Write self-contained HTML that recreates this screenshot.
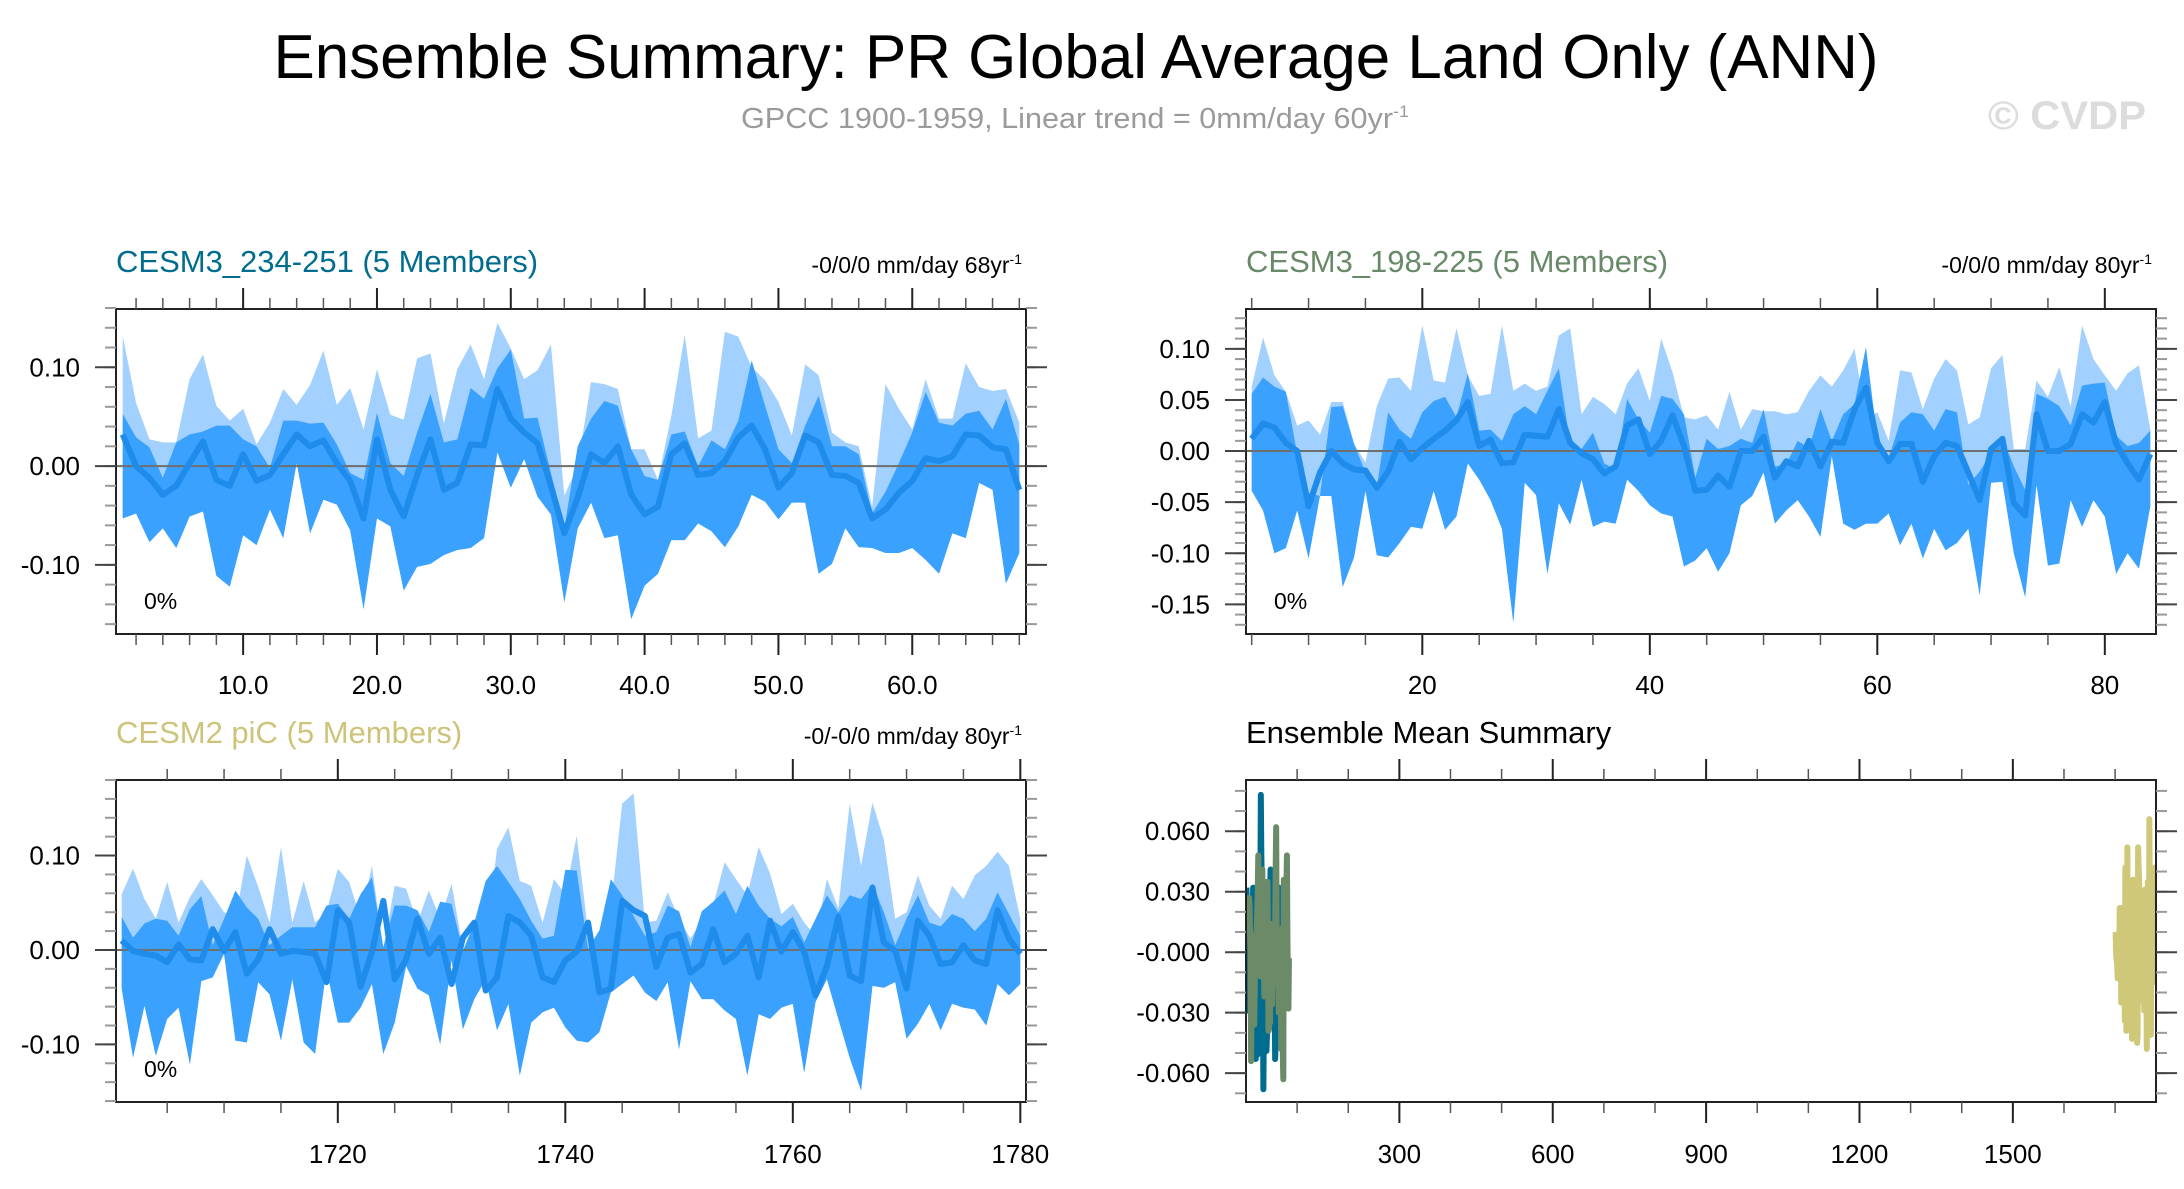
<!DOCTYPE html>
<html><head><meta charset="utf-8"><style>
html,body{margin:0;padding:0;background:#fff;}
svg{display:block;font-family:"Liberation Sans",Arial,sans-serif;}
</style></head><body>
<svg id="chart" width="2184" height="1189" viewBox="0 0 2184 1189" xmlns="http://www.w3.org/2000/svg">
<text x="1076" y="78" text-anchor="middle" font-size="62" fill="#000" textLength="1605" lengthAdjust="spacingAndGlyphs">Ensemble Summary: PR Global Average Land Only (ANN)</text>
<text x="741" y="128" font-size="29" fill="#9a9a9a" textLength="668" lengthAdjust="spacingAndGlyphs">GPCC 1900-1959, Linear trend = 0mm/day 60yr<tspan dy="-11" font-size="17">-1</tspan></text>
<text x="1988" y="129" font-size="40" font-weight="bold" fill="#dcdcdc" textLength="158" lengthAdjust="spacingAndGlyphs">© CVDP</text>
</svg>
<script>
// Panel 1: CESM3_234-251 (x = 1..68)
const p1Start = 1;
const p1Mean = [0.032,0,-0.012,-0.029,-0.020,0.003,0.025,-0.014,-0.020,0.012,-0.015,-0.009,0.012,0.032,0.020,0.026,0.003,-0.015,-0.053,0.027,-0.024,-0.051,-0.009,0.027,-0.024,-0.017,0.022,0.021,0.078,0.048,0.034,0.023,-0.020,-0.068,-0.032,0.012,0.003,0.020,-0.029,-0.049,-0.041,0.012,0.023,-0.009,-0.007,0.005,0.029,0.041,0.017,-0.022,-0.007,0.031,0.024,-0.009,-0.010,-0.017,-0.053,-0.044,-0.027,-0.015,0.008,0.005,0.010,0.032,0.031,0.019,0.017,-0.024];
const p1Hi = [0.132,0.064,0.027,0.024,0.024,0.088,0.113,0.061,0.046,0.058,0.022,0.044,0.078,0.062,0.082,0.117,0.062,0.079,0.037,0.098,0.052,0.047,0.109,0.114,0.043,0.098,0.123,0.088,0.145,0.119,0.088,0.097,0.123,-0.030,0.000,0.085,0.083,0.078,0.017,0.017,-0.014,0.051,0.133,0.028,0.036,0.136,0.131,0.100,0.087,0.065,0.031,0.103,0.092,0.034,0.024,0.020,-0.041,0.083,0.058,0.037,0.088,0.048,0.048,0.104,0.080,0.076,0.078,0.044];
const p1Mid = [0.053,0.029,0.019,-0.012,0.024,0.032,0.035,0.041,0.041,0.027,0.020,-0.002,0.046,0.046,0.043,0.044,0.022,-0.007,-0.014,0.054,0.003,-0.010,0.034,0.073,0.024,0.027,0.079,0.068,0.099,0.118,0.048,0.049,-0.007,-0.063,0.020,0.048,0.066,0.061,0.017,-0.010,-0.014,0.032,0.035,0.000,0.026,0.017,0.046,0.107,0.061,0.017,0.003,0.041,0.071,0.020,0.020,0.012,-0.048,-0.026,0.003,0.034,0.075,0.044,0.041,0.053,0.056,0.037,0.068,0.022];
const p1Lo = [-0.053,-0.048,-0.077,-0.063,-0.083,-0.051,-0.046,-0.111,-0.122,-0.070,-0.080,-0.044,-0.073,0.003,-0.068,-0.034,-0.039,-0.065,-0.145,-0.053,-0.061,-0.126,-0.102,-0.099,-0.090,-0.085,-0.083,-0.073,0.014,-0.022,0.007,-0.031,-0.049,-0.138,-0.063,-0.037,-0.073,-0.070,-0.155,-0.121,-0.109,-0.075,-0.075,-0.058,-0.066,-0.082,-0.061,-0.029,-0.036,-0.054,-0.037,-0.037,-0.109,-0.099,-0.063,-0.082,-0.083,-0.088,-0.088,-0.083,-0.095,-0.109,-0.068,-0.073,-0.017,-0.024,-0.119,-0.088];
const p1XTicks = [10,20,30,40,50,60];
const p1XLabels = ["10.0","20.0","30.0","40.0","50.0","60.0"];
const p1YTicks = [0.10,0.00,-0.10];
const p1YLabels = ["0.10","0.00","-0.10"];

// Panel 2: CESM3_198-225 (x = 5..84)
const p2Start = 5;
const p2Mean = [0.012,0.027,0.023,0.008,0.000,-0.054,-0.021,0.000,-0.012,-0.018,-0.019,-0.036,-0.020,0.009,-0.008,0.003,0.012,0.020,0.030,0.048,0.005,0.011,-0.012,-0.011,0.016,0.015,0.014,0.041,0.008,-0.002,-0.008,-0.022,-0.015,0.025,0.031,-0.003,0.010,0.035,0.005,-0.039,-0.038,-0.024,-0.035,0.000,0.000,0.014,-0.026,-0.010,-0.015,0.010,-0.015,0.009,0.008,0.041,0.062,0.008,-0.010,0.007,0.007,-0.030,-0.005,0.008,0.005,-0.021,-0.048,0.002,0.012,-0.051,-0.063,0.036,0.000,0.000,0.007,0.036,0.028,0.048,0.007,-0.012,-0.028,-0.003];
const p2Hi = [0.063,0.111,0.074,0.058,0.025,0.030,0.016,0.048,0.048,0.007,-0.011,0.044,0.071,0.072,0.059,0.123,0.069,0.067,0.120,0.074,0.054,0.056,0.123,0.059,0.066,0.059,0.063,0.113,0.120,0.036,0.053,0.046,0.036,0.066,0.081,0.049,0.110,0.077,0.033,0.031,0.035,0.021,0.058,0.021,0.041,0.039,0.039,0.036,0.038,0.059,0.074,0.063,0.079,0.100,0.031,0.038,0.010,0.079,0.077,0.041,0.071,0.090,0.079,0.026,0.033,0.081,0.094,0.002,0.002,0.069,0.053,0.082,0.043,0.123,0.090,0.074,0.059,0.076,0.084,0.021];
const p2Mid = [0.056,0.072,0.063,0.058,-0.003,-0.041,-0.044,0.043,0.044,0.007,-0.021,-0.035,0.038,0.021,0.012,0.038,0.049,0.053,0.033,0.076,0.020,0.021,0.010,0.036,0.044,0.036,0.059,0.081,0.007,0.002,0.018,-0.012,-0.018,0.051,0.031,0.018,0.054,0.051,0.036,-0.026,0.012,0.002,0.005,0.012,0.008,0.041,-0.015,-0.013,0.010,0.003,0.041,0.010,0.036,0.046,0.102,0.012,-0.007,0.028,0.038,0.036,0.020,0.041,0.038,-0.033,-0.020,-0.002,0.013,-0.015,-0.038,0.056,0.051,0.044,0.025,0.064,0.066,0.067,0.015,0.005,0.008,0.020];
const p2Lo = [-0.039,-0.058,-0.100,-0.095,-0.058,-0.105,-0.044,-0.044,-0.133,-0.104,-0.039,-0.102,-0.104,-0.090,-0.074,-0.076,-0.039,-0.077,-0.064,-0.012,-0.028,-0.048,-0.076,-0.168,-0.031,-0.043,-0.120,-0.051,-0.072,-0.028,-0.074,-0.069,-0.071,-0.028,-0.039,-0.053,-0.061,-0.064,-0.113,-0.107,-0.095,-0.118,-0.100,-0.053,-0.044,-0.021,-0.071,-0.058,-0.048,-0.064,-0.084,-0.005,-0.071,-0.077,-0.071,-0.071,-0.061,-0.092,-0.071,-0.105,-0.076,-0.097,-0.090,-0.076,-0.141,-0.031,-0.030,-0.100,-0.143,-0.033,-0.112,-0.110,-0.048,-0.074,-0.048,-0.064,-0.120,-0.100,-0.115,-0.054];
const p2XTicks = [20,40,60,80];
const p2XLabels = ["20","40","60","80"];
const p2YTicks = [0.10,0.05,0.00,-0.05,-0.10,-0.15];
const p2YLabels = ["0.10","0.05","0.00","-0.05","-0.10","-0.15"];

// Panel 3: CESM2 piC (years 1701..1780)
const p3Start = 1701;
const p3Mean = [0.010,-0.001,-0.004,-0.006,-0.013,0.006,-0.010,-0.011,0.022,-0.001,0.019,-0.025,-0.010,0.022,-0.004,-0.001,-0.002,-0.004,-0.034,0.042,0.029,-0.039,-0.002,0.052,-0.031,-0.010,0.033,-0.004,0.013,-0.036,0.013,0.029,-0.043,-0.029,0.036,0.029,0.015,-0.029,-0.034,-0.011,-0.002,0.029,-0.045,-0.041,0.052,0.042,0.036,-0.018,0.013,0.017,-0.024,-0.015,0.022,-0.013,-0.004,0.015,-0.029,0.031,-0.002,0.019,-0.002,-0.048,-0.017,0.035,-0.027,-0.033,0.066,0.008,-0.001,-0.041,0.031,0.015,-0.015,-0.013,0.005,-0.011,-0.015,0.042,0.012,-0.004];
const p3Hi = [0.059,0.086,0.054,0.033,0.072,0.029,0.056,0.075,0.058,0.040,0.033,0.100,0.067,0.029,0.109,0.029,0.073,0.029,0.040,0.086,0.072,0.033,0.089,0.001,0.068,0.065,0.029,0.063,0.033,0.070,0.001,0.006,0.012,0.107,0.130,0.073,0.068,0.029,0.075,0.059,0.121,0.019,0.005,0.044,0.155,0.166,0.029,0.031,0.061,0.033,0.012,0.031,0.047,0.093,0.075,0.058,0.109,0.081,0.038,0.049,0.029,0.015,0.075,0.044,0.155,0.089,0.156,0.117,0.033,0.040,0.079,0.047,0.033,0.068,0.054,0.079,0.089,0.104,0.089,0.033];
const p3Mid = [0.035,0.013,0.028,0.033,0.031,0.015,0.043,0.057,0.005,0.033,0.063,0.045,0.033,0.005,0.015,0.024,0.024,0.024,0.047,0.049,0.033,0.059,0.077,0.003,0.047,0.047,0.042,0.019,0.051,0.049,-0.001,0.029,0.073,0.089,0.072,0.054,0.031,0.012,0.015,0.085,0.084,0.001,0.021,0.075,0.058,0.036,0.015,0.019,0.047,0.041,0.003,0.041,0.051,0.063,0.038,0.068,0.047,0.033,0.025,0.035,0.008,0.033,0.058,0.040,0.058,0.054,0.070,0.040,0.005,0.033,0.058,0.029,0.025,0.038,0.033,0.020,0.033,0.061,0.038,0.015];
const p3Lo = [-0.041,-0.114,-0.059,-0.112,-0.073,-0.061,-0.121,-0.033,-0.029,-0.004,-0.096,-0.098,-0.034,-0.047,-0.096,-0.031,-0.098,-0.110,-0.020,-0.077,-0.077,-0.061,-0.036,-0.110,-0.077,-0.017,-0.041,-0.048,-0.100,-0.011,-0.084,-0.052,-0.031,-0.085,-0.057,-0.133,-0.077,-0.066,-0.061,-0.082,-0.096,-0.098,-0.087,-0.045,-0.036,-0.027,-0.045,-0.054,-0.034,-0.105,-0.033,-0.052,-0.052,-0.064,-0.073,-0.133,-0.068,-0.073,-0.061,-0.057,-0.130,-0.055,-0.031,-0.073,-0.114,-0.149,-0.038,-0.040,-0.034,-0.094,-0.078,-0.057,-0.085,-0.057,-0.061,-0.063,-0.080,-0.036,-0.048,-0.036];
const p3XTicks = [1720,1740,1760,1780];
const p3XLabels = ["1720","1740","1760","1780"];
const p3YTicks = [0.10,0.00,-0.10];
const p3YLabels = ["0.10","0.00","-0.10"];

// Panel 4: ensemble mean summary
const p4XTicks = [300,600,900,1200,1500];
const p4XLabels = ["300","600","900","1200","1500"];
const p4YTicks = [0.06,0.03,0.0,-0.03,-0.06];
const p4YLabels = ["0.060","0.030","-0.000","-0.030","-0.060"];

const NS = "http://www.w3.org/2000/svg";
const svg = document.getElementById("chart");
function mk(tag, attrs, parent) {
  const e = document.createElementNS(NS, tag);
  for (const k in attrs) e.setAttribute(k, attrs[k]);
  (parent || svg).appendChild(e);
  return e;
}
function range(a, b, s) { const r = []; for (let v = a; v <= b + 1e-9; v += s) r.push(+v.toFixed(6)); return r; }

function makePanel(cfg) {
  const g = mk("g", {});
  
  
  const L = cfg.x0, R = cfg.x1, T = cfg.y0, B = cfg.y1;
  const sx = v => L + (v - cfg.xmin) / (cfg.xmax - cfg.xmin) * (R - L);
  const sy = v => T + (cfg.ymax - v) / (cfg.ymax - cfg.ymin) * (B - T);
  const clip = "clip-" + cfg.name;
  const cp = mk("clipPath", {id: clip}, g);
  mk("rect", {x: L, y: T, width: R - L, height: B - T}, cp);
  const plot = mk("g", {"clip-path": "url(#" + clip + ")"}, g);
  
  
  if (cfg.series) {
    const xs = cfg.mean.map((_, i) => cfg.start + i);
    const poly = (top, bot) => top.map((v, i) => sx(xs[i]) + "," + sy(v)).concat(bot.map((v, i) => [sx(xs[i]), sy(v)]).reverse().map(p => p.join(","))).join(" ");
    const light = mk("polygon", {points: poly(cfg.hi, cfg.lo), fill: "#a2d0ff"}, plot);
    
    
    const med = mk("polygon", {points: poly(cfg.mid, cfg.lo), fill: "#3aa1ff"}, plot);
    
    
    const zl = mk("line", {x1: L, x2: R, y1: sy(0), y2: sy(0), stroke: "#6f6f6f", "stroke-width": 2}, plot);
    
    
    const ml = mk("polyline", {points: cfg.mean.map((v, i) => sx(xs[i]) + "," + sy(v)).join(" "), fill: "none", stroke: "#1f8ceb", "stroke-width": 6, "stroke-linejoin": "round"}, plot);
    
    
  }
  if (cfg.lines) {
    cfg.lines.forEach(s => {
      const pl = mk("polyline", {points: s.data.map((v, i) => sx(s.start + i) + "," + sy(v)).join(" "), fill: "none", stroke: s.color, "stroke-width": 6, "stroke-linejoin": "round"}, plot);
      
      
    });
  }
  const fr = mk("rect", {x: L, y: T, width: R - L, height: B - T, fill: "none", stroke: "#222", "stroke-width": 2}, g);
  
  
  cfg.xMinor.forEach(v => {
    const x = sx(v); if (x < L - 1 || x > R + 1) return;
    mk("line", {x1: x, x2: x, y1: T, y2: T - 11, stroke: "#555", "stroke-width": 1.5}, g);
    mk("line", {x1: x, x2: x, y1: B, y2: B + 11, stroke: "#555", "stroke-width": 1.5}, g);
  });
  cfg.yMinor.forEach(v => {
    const y = sy(v); if (y < T - 1 || y > B + 1) return;
    mk("line", {x1: L, x2: L - 11, y1: y, y2: y, stroke: "#999", "stroke-width": 2}, g);
    mk("line", {x1: R, x2: R + 11, y1: y, y2: y, stroke: "#999", "stroke-width": 2}, g);
  });
  cfg.xTicks.forEach((v, i) => {
    const x = sx(v);
    mk("line", {x1: x, x2: x, y1: T, y2: T - 21, stroke: "#222", "stroke-width": 2}, g);
    mk("line", {x1: x, x2: x, y1: B, y2: B + 21, stroke: "#222", "stroke-width": 2}, g);
    const t = mk("text", {x: x, y: cfg.xLabY, "text-anchor": "middle", "font-size": 26, fill: "#000"}, g);
    t.textContent = cfg.xLabels[i];
    
    
  });
  cfg.yTicks.forEach((v, i) => {
    const y = sy(v);
    mk("line", {x1: L, x2: L - 21, y1: y, y2: y, stroke: "#444", "stroke-width": 2}, g);
    mk("line", {x1: R, x2: R + 21, y1: y, y2: y, stroke: "#444", "stroke-width": 2}, g);
    const t = mk("text", {x: L - 36, y: y + 9, "text-anchor": "end", "font-size": 26, fill: "#000"}, g);
    t.textContent = cfg.yLabels[i];
    
    
  });
  const tt = mk("text", {x: L, y: T - 37, "font-size": 31, fill: cfg.titleColor}, g);
  tt.textContent = cfg.title;
  
  
  if (cfg.trend) {
    const tr = mk("text", {x: R - 4, y: T - 36, "text-anchor": "end", "font-size": 23, fill: "#000"}, g);
    tr.textContent = cfg.trend;
    const sp = mk("tspan", {dy: -9, "font-size": 14}, tr);
    sp.textContent = "-1";
    
    
    const pc = mk("text", {x: L + 28, y: B - 25, "font-size": 23, fill: "#000"}, g);
    pc.textContent = "0%";
    
    
  }
}

makePanel({name: "panel-cesm3-234-251", x0: 116, x1: 1026, y0: 309, y1: 634, xmin: 0.5, xmax: 68.5, ymin: -0.170, ymax: 0.159,
  series: true, start: p1Start, mean: p1Mean, hi: p1Hi, mid: p1Mid, lo: p1Lo,
  xTicks: p1XTicks, xLabels: p1XLabels, yTicks: p1YTicks, yLabels: p1YLabels,
  xMinor: range(2, 68, 2), yMinor: range(-0.16, 0.16, 0.02), xLabY: 694,
  title: "CESM3_234-251 (5 Members)", titleColor: "#006c8f", trend: "-0/0/0 mm/day 68yr"});
makePanel({name: "panel-cesm3-198-225", x0: 1246, x1: 2156, y0: 309, y1: 634, xmin: 4.5, xmax: 84.5, ymin: -0.179, ymax: 0.139,
  series: true, start: p2Start, mean: p2Mean, hi: p2Hi, mid: p2Mid, lo: p2Lo,
  xTicks: p2XTicks, xLabels: p2XLabels, yTicks: p2YTicks, yLabels: p2YLabels,
  xMinor: range(5, 85, 5), yMinor: range(-0.17, 0.13, 0.01), xLabY: 694,
  title: "CESM3_198-225 (5 Members)", titleColor: "#688a68", trend: "-0/0/0 mm/day 80yr"});
makePanel({name: "panel-cesm2-pic", x0: 116, x1: 1026, y0: 780, y1: 1102, xmin: 1700.5, xmax: 1780.5, ymin: -0.161, ymax: 0.180,
  series: true, start: p3Start, mean: p3Mean, hi: p3Hi, mid: p3Mid, lo: p3Lo,
  xTicks: p3XTicks, xLabels: p3XLabels, yTicks: p3YTicks, yLabels: p3YLabels,
  xMinor: range(1705, 1780, 5), yMinor: range(-0.16, 0.18, 0.02), xLabY: 1163,
  title: "CESM2 piC (5 Members)", titleColor: "#cdc47a", trend: "-0/-0/0 mm/day 80yr"});
makePanel({name: "panel-ensemble-mean-summary", x0: 1246, x1: 2156, y0: 780, y1: 1102, xmin: 0, xmax: 1780, ymin: -0.0743, ymax: 0.0854,
  lines: [
    {name: "mean-line-cesm3-234-251", start: p1Start, data: p1Mean, color: "#006c8f"},
    {name: "mean-line-cesm3-198-225", start: p2Start, data: p2Mean, color: "#6a8a68"},
    {name: "mean-line-cesm2-pic", start: p3Start, data: p3Mean, color: "#cfc879"}
  ],
  xTicks: p4XTicks, xLabels: p4XLabels, yTicks: p4YTicks, yLabels: p4YLabels,
  xMinor: range(100, 1700, 100), yMinor: range(-0.07, 0.08, 0.01), xLabY: 1163,
  title: "Ensemble Mean Summary", titleColor: "#000"});
</script>
</body></html>
